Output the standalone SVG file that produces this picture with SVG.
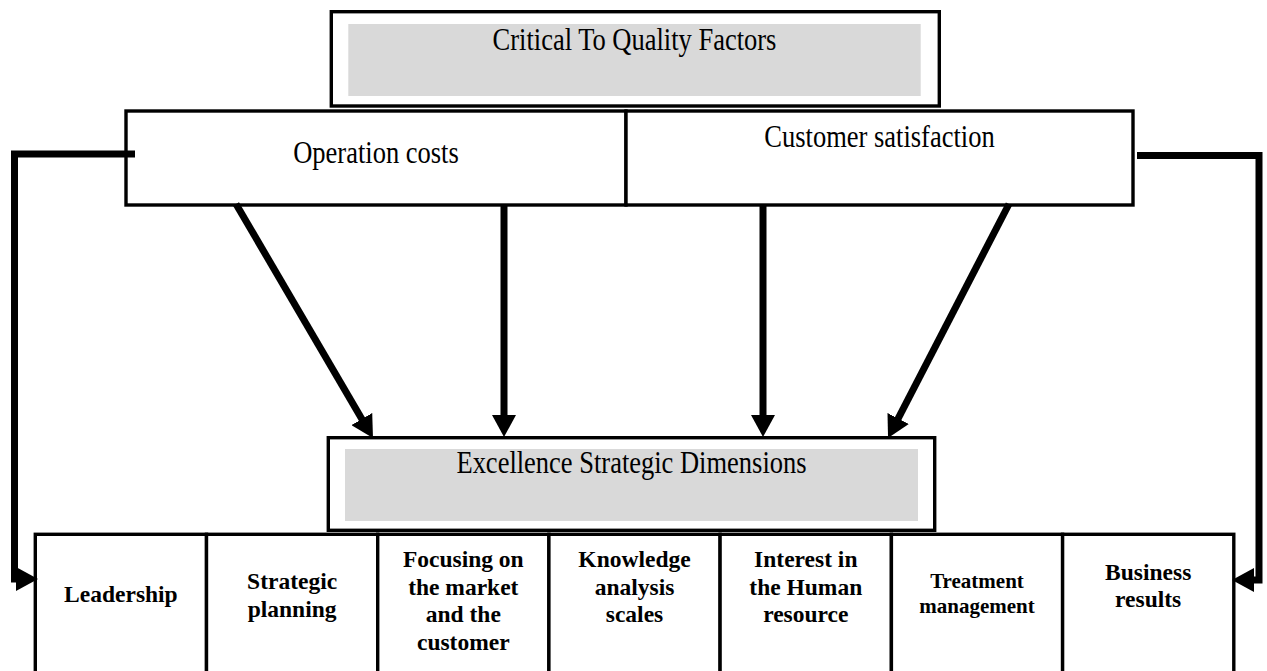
<svg xmlns="http://www.w3.org/2000/svg" width="1267" height="671" viewBox="0 0 1267 671">
<defs>
<marker id="ah" markerUnits="userSpaceOnUse" markerWidth="22" markerHeight="24" viewBox="0 0 22 24" refX="6" refY="12" orient="auto"><path d="M0,0 L22,12 L0,24 Z" fill="#000"/></marker>
</defs>
<style>
.box{fill:#fff;stroke:#000;stroke-width:3.4}
.shade{fill:#d9d9d9}
.title{font-family:"Liberation Serif","Times New Roman",serif;font-size:26.5px;fill:#000;text-anchor:middle}
.cell{font-family:"Liberation Serif","Times New Roman",serif;font-size:23.5px;font-weight:bold;fill:#000;text-anchor:middle}
.small{font-size:21px}
.conn{fill:none;stroke:#000;stroke-width:7;marker-end:url(#ah)}
</style>
<rect x="0" y="0" width="1267" height="671" fill="#fff"/>

<g id="ctq">
<rect class="box" x="331.3" y="11.7" width="608" height="94.3"/>
<rect class="shade" x="348.3" y="24" width="572.4" height="72"/>
<text class="title" transform="translate(634.5,49.5) scale(1,1.16)">Critical To Quality Factors</text>
</g>

<g id="operation-costs">
<rect class="box" x="126" y="111" width="500" height="94"/>
<text class="title" transform="translate(376,163) scale(1,1.16)">Operation costs</text>
</g>

<g id="customer-satisfaction">
<rect class="box" x="626" y="111" width="507" height="94"/>
<text class="title" transform="translate(879.5,147) scale(1,1.16)">Customer satisfaction</text>
</g>

<g id="excellence">
<rect class="box" x="328.3" y="437.7" width="606.4" height="92.6"/>
<rect class="shade" x="345" y="449" width="573" height="72"/>
<text class="title" transform="translate(631.5,473) scale(1,1.18)">Excellence Strategic Dimensions</text>
</g>

<g id="leadership">
<rect class="box" x="35.3" y="534.3" width="171.2" height="150"/>
<text class="cell" x="120.9" y="602">Leadership</text>
</g>
<g id="strategic-planning">
<rect class="box" x="206.5" y="534.3" width="171.2" height="150"/>
<text class="cell" x="292.1" y="589">Strategic</text>
<text class="cell" x="292.1" y="617">planning</text>
</g>
<g id="focusing">
<rect class="box" x="377.7" y="534.3" width="171.2" height="150"/>
<text class="cell" x="463.3" y="567">Focusing on</text>
<text class="cell" x="463.3" y="595">the market</text>
<text class="cell" x="463.3" y="622">and the</text>
<text class="cell" x="463.3" y="650">customer</text>
</g>
<g id="knowledge">
<rect class="box" x="548.9" y="534.3" width="171.2" height="150"/>
<text class="cell" x="634.5" y="567">Knowledge</text>
<text class="cell" x="634.5" y="595">analysis</text>
<text class="cell" x="634.5" y="622">scales</text>
</g>
<g id="human-resource">
<rect class="box" x="720.1" y="534.3" width="171.3" height="150"/>
<text class="cell" x="805.8" y="567">Interest in</text>
<text class="cell" x="805.8" y="595">the Human</text>
<text class="cell" x="805.8" y="622">resource</text>
</g>
<g id="treatment">
<rect class="box" x="891.4" y="534.3" width="171.2" height="150"/>
<text class="cell small" x="977" y="588">Treatment</text>
<text class="cell small" x="977" y="613">management</text>
</g>
<g id="business-results">
<rect class="box" x="1062.6" y="534.3" width="171.2" height="150"/>
<text class="cell" x="1148.2" y="580">Business</text>
<text class="cell" x="1148.2" y="607">results</text>
</g>

<g id="connectors">
<path class="conn" d="M236,204 L364.9,424.2"/>
<path class="conn" d="M504,204 L504,421"/>
<path class="conn" d="M763,204 L763,421"/>
<path class="conn" d="M1009,204 L895.4,423.8"/>
<path class="conn" d="M135,154 H14.5 V579 H22"/>
<path class="conn" d="M1137,155.5 H1259 V580 H1248"/>
</g>
</svg>
